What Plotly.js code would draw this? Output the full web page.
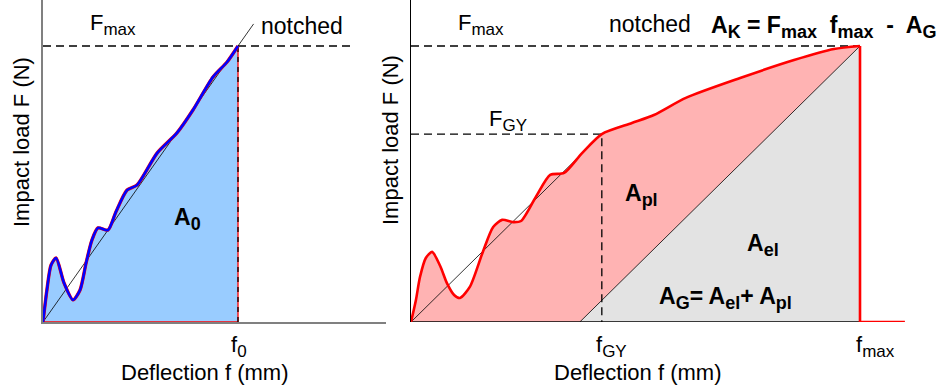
<!DOCTYPE html>
<html>
<head>
<meta charset="utf-8">
<script src="https://cdn.plot.ly/plotly-3.0.1.min.js"></script>
<style>html,body{margin:0;padding:0;background:#fff;}#chart{width:945px;height:387px;}</style>
</head>
<body>
<div id="chart"></div>
<script>
// ---- Data (normalised: deflection / f at break, load / Fmax) ----
// Left panel: notched specimen, brittle (A0)
const leftDeflection = [0, 0.02, 0.041, 0.067, 0.108, 0.154, 0.19, 0.221, 0.251, 0.282, 0.333, 0.374, 0.431, 0.482, 0.585, 0.687, 0.769, 0.872, 0.944, 1.0];
const leftLoad       = [0, 0.116, 0.206, 0.232, 0.141, 0.080, 0.116, 0.214, 0.297, 0.341, 0.333, 0.399, 0.478, 0.496, 0.612, 0.685, 0.768, 0.888, 0.942, 1.0];
const f0 = 1.0;        // deflection at Fmax (left)
const FmaxLeft = 1.0;  // max load (left)

// Right panel: notched specimen with yield (A_pl, A_el)
const rightDeflection = [0, 0.011, 0.020, 0.033, 0.047, 0.065, 0.080, 0.096, 0.109, 0.131, 0.160, 0.183, 0.203, 0.227, 0.245, 0.278, 0.310, 0.341, 0.381, 0.425, 0.492, 0.541, 0.612, 0.733, 0.853, 0.942, 1.0];
const rightLoad       = [0, 0.080, 0.163, 0.232, 0.254, 0.203, 0.141, 0.098, 0.087, 0.127, 0.254, 0.344, 0.370, 0.362, 0.366, 0.453, 0.533, 0.540, 0.612, 0.681, 0.721, 0.750, 0.812, 0.884, 0.949, 0.989, 1.0];
const fmax = 1.0;       // deflection at Fmax (right)
const FmaxRight = 1.0;  // max load (right)
const fGY = 0.425;      // deflection at general yield
const FGY = 0.681;      // general yield load
const fEnd = 1.10;      // end of recorded trace after fracture

// derived: elastic unloading line parallel to initial stiffness
const stiffness = FGY / fGY;
const fElStart = fmax - FmaxRight / stiffness;

// ---- Layout helpers (pixel -> paper) ----
const W = 945, H = 387;
const px = v => v / W;
const py = v => 1 - v / H;
const FONT = 'Liberation Sans, Arial, sans-serif';
const SUB = s => '<sub><span style="font-size:17px">' + s + '</span></sub>';
const SUBB = s => '<sub><span style="font-size:18px">' + s + '</span></sub>';
const SM = 0.7;

const dash = '8px,5px';
const traces = [];

// ---------- LEFT ----------
traces.push({x: leftDeflection, y: leftLoad, xaxis: 'x', yaxis: 'y', type: 'scatter', mode: 'lines',
  line: {shape: 'spline', smoothing: SM, width: 0, color: 'rgba(0,0,0,0)'}, fill: 'tozeroy', fillcolor: '#99CCFF', hoverinfo: 'skip'});
traces.push({x: [0, 1.08 * f0], y: [0, 1.08 * FmaxLeft], xaxis: 'x', yaxis: 'y', mode: 'lines', line: {color: '#000', width: 0.8}, hoverinfo: 'skip'});
traces.push({x: [0, 1.6 * f0], y: [FmaxLeft, FmaxLeft], xaxis: 'x', yaxis: 'y', mode: 'lines', line: {color: '#000', width: 1.3, dash: dash}, hoverinfo: 'skip'});
traces.push({x: [0, f0, f0], y: [0, 0, FmaxLeft], xaxis: 'x', yaxis: 'y', mode: 'lines', line: {color: '#FF0000', width: 1.3}, hoverinfo: 'skip'});
traces.push({x: [f0, f0], y: [0, FmaxLeft], xaxis: 'x', yaxis: 'y', mode: 'lines', line: {color: '#000', width: 1.3, dash: '5px,5px'}, hoverinfo: 'skip'});
traces.push({x: leftDeflection, y: leftLoad, xaxis: 'x', yaxis: 'y', mode: 'lines',
  line: {shape: 'spline', smoothing: SM, width: 3.4, color: '#FF0000'}, hoverinfo: 'skip'});
traces.push({x: leftDeflection, y: leftLoad, xaxis: 'x', yaxis: 'y', mode: 'lines',
  line: {shape: 'spline', smoothing: SM, width: 2.6, color: '#0000FF'}, hoverinfo: 'skip'});

// ---------- RIGHT ----------
traces.push({x: rightDeflection, y: rightLoad, xaxis: 'x2', yaxis: 'y2', mode: 'lines',
  line: {shape: 'spline', smoothing: SM, width: 0, color: 'rgba(0,0,0,0)'}, fill: 'tozeroy', fillcolor: '#FFB3B3', hoverinfo: 'skip'});
traces.push({x: [fElStart, fmax, fmax, fElStart], y: [0, FmaxRight, 0, 0], xaxis: 'x2', yaxis: 'y2', mode: 'lines',
  line: {width: 0}, fill: 'toself', fillcolor: '#E3E3E3', hoverinfo: 'skip'});
traces.push({x: [fElStart, fmax], y: [0, FmaxRight], xaxis: 'x2', yaxis: 'y2', mode: 'lines', line: {color: '#000', width: 0.8}, hoverinfo: 'skip'});
traces.push({x: [0, fGY], y: [0, FGY], xaxis: 'x2', yaxis: 'y2', mode: 'lines', line: {color: '#000', width: 0.8}, hoverinfo: 'skip'});
traces.push({x: [0, fmax], y: [FmaxRight, FmaxRight], xaxis: 'x2', yaxis: 'y2', mode: 'lines', line: {color: '#000', width: 1.3, dash: dash}, hoverinfo: 'skip'});
traces.push({x: [0, fGY, fGY], y: [FGY, FGY, 0], xaxis: 'x2', yaxis: 'y2', mode: 'lines', line: {color: '#000', width: 1.3, dash: dash}, hoverinfo: 'skip'});
traces.push({x: [0, fmax], y: [0, 0], xaxis: 'x2', yaxis: 'y2', mode: 'lines', line: {color: '#000', width: 1.4}, hoverinfo: 'skip'});
traces.push({x: rightDeflection, y: rightLoad, xaxis: 'x2', yaxis: 'y2', mode: 'lines',
  line: {shape: 'spline', smoothing: SM, width: 2.6, color: '#FF0000'}, hoverinfo: 'skip'});
traces.push({x: [fmax, fmax, fEnd], y: [FmaxRight, 0, 0], xaxis: 'x2', yaxis: 'y2', mode: 'lines',
  line: {width: 2.6, color: '#FF0000'}, hoverinfo: 'skip'});

// ---------- Axes ----------
const yDom = [65 / H, 1];
const yRange = [0, 322 / 276];
const baseAxis = {showgrid: false, zeroline: false, showticklabels: false, ticks: '', fixedrange: true};

const layout = {
  width: W, height: H,
  margin: {l: 0, r: 0, t: 0, b: 0, pad: 0},
  paper_bgcolor: '#fff', plot_bgcolor: 'rgba(0,0,0,0)',
  showlegend: false,
  font: {family: FONT, size: 22, color: '#000'},
  xaxis: Object.assign({}, baseAxis, {domain: [px(43), px(386)], range: [0, (386 - 43) / 195], anchor: 'y',
    showline: true, linecolor: '#808080', linewidth: 2, layer: 'below traces'}),
  yaxis: Object.assign({}, baseAxis, {domain: yDom, range: yRange, anchor: 'x',
    showline: true, linecolor: '#808080', linewidth: 2, layer: 'below traces'}),
  xaxis2: Object.assign({}, baseAxis, {domain: [px(411), px(910)], range: [0, (910 - 411) / 449], anchor: 'y2', showline: false}),
  yaxis2: Object.assign({}, baseAxis, {domain: yDom, range: yRange, anchor: 'x2',
    showline: true, linecolor: '#000', linewidth: 1.2}),
  annotations: []
};

function ann(text, xp, yp, opts) {
  layout.annotations.push(Object.assign({
    text: text, xref: 'paper', yref: 'paper', x: px(xp), y: py(yp),
    xanchor: 'left', yanchor: 'middle', showarrow: false,
    font: {family: FONT, size: 22, color: '#000'}
  }, opts || {}));
}
const BOLD = {family: FONT, size: 23, color: '#000', weight: 'bold'};

// left texts
ann('F' + SUB('max'), 88, 25);
ann('notched', 259, 26, {font: {family: FONT, size: 23, color: '#000'}});
ann('<b>A' + SUBB('0') + '</b>', 172, 219, {font: BOLD});
ann('f' + SUB('0'), 229, 346);
ann('Deflection f (mm)', 204, 372, {xanchor: 'center'});
ann('Impact load F (N)', 21, 142, {xanchor: 'center', textangle: -90});

// right texts
ann('F' + SUB('max'), 456, 25);
ann('notched', 607, 24, {font: {family: FONT, size: 23, color: '#000'}});
ann('<b>A' + SUBB('K') + ' = F' + SUBB('max') + '\u00A0 f' + SUBB('max') + ' \u00A0-\u00A0 A' + SUBB('G') + '</b>', 709, 27, {font: BOLD});
ann('F' + SUB('GY'), 487, 121);
ann('<b>A' + SUBB('pl') + '</b>', 623, 195, {font: BOLD});
ann('<b>A' + SUBB('el') + '</b>', 745, 245, {font: BOLD});
ann('<b>A' + SUBB('G') + '= A' + SUBB('el') + '+ A' + SUBB('pl') + '</b>', 657, 298, {font: BOLD});
ann('f' + SUB('GY'), 594, 346);
ann('f' + SUB('max'), 854, 346);
ann('Deflection f (mm)', 637, 372, {xanchor: 'center'});
ann('Impact load F (N)', 390, 140, {xanchor: 'center', textangle: -90});

Plotly.newPlot('chart', traces, layout, {staticPlot: true, displayModeBar: false});
</script>
</body>
</html>
